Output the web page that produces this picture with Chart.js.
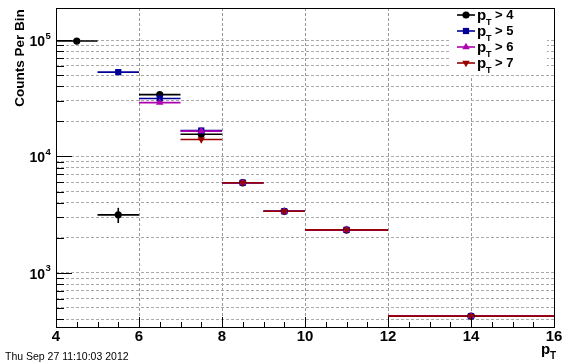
<!DOCTYPE html>
<html><head><meta charset="utf-8">
<script src="https://cdn.jsdelivr.net/npm/chart.js@4/dist/chart.umd.min.js"></script>
<style>html,body{margin:0;padding:0;background:#fff;overflow:hidden}canvas{display:block}</style>
</head><body>
<canvas id="c" width="567" height="364"></canvas>
<script>
// ---- data ----
const binEdges = [4, 5, 6, 7, 8, 9, 10, 12, 16];
const seriesLabels = ['4', '5', '6', '7'];
const ptGt4 = [98000, 3150, 34000, 15500, 5950, 3380, 2340, 425];
const ptGt5 = [null, 53000, 31500, 16700, 5950, 3380, 2340, 425];
const ptGt6 = [null, null, 29000, 16500, 5950, 3380, 2340, 425];
const ptGt7 = [null, null, null, 14000, 5950, 3380, 2340, 425];
const errGt4 = [1500, 470, 1500, 300, 120, 80, 50, 20];
const errGt5 = [0, 1200, 900, 400, 120, 80, 50, 20];
const errGt6 = [0, 0, 800, 400, 120, 80, 50, 20];
const errGt7 = [0, 0, 0, 400, 120, 80, 50, 20];
const xTickValues = [4, 6, 8, 10, 12, 14, 16];
const yTickValues = [400, 500, 600, 700, 800, 900, 1000, 2000, 3000, 4000, 5000, 6000, 7000, 8000, 9000,
  10000, 20000, 30000, 40000, 50000, 60000, 70000, 80000, 90000, 100000];
const yLabelExponents = [3, 4, 5];
const dateText = 'Thu Sep 27 11:10:03 2012';

// ---- styles ----
const FONT = "'Liberation Sans', Arial, Helvetica, sans-serif";
const styles = [
  { color: '#000000', pointStyle: 'circle', radius: 3.6, rotation: 0 },
  { color: '#000099', pointStyle: 'rect', radius: 4.4, rotation: 0 },
  { color: '#b000b0', pointStyle: 'triangle', radius: 4.3, rotation: 0 },
  { color: '#990000', pointStyle: 'triangle', radius: 4.3, rotation: 180 }
];
const seriesValues = [ptGt4, ptGt5, ptGt6, ptGt7];
const seriesErrors = [errGt4, errGt5, errGt6, errGt7];
const centers = binEdges.slice(0, -1).map((e, i) => (e + binEdges[i + 1]) / 2);

const datasets = seriesValues.map((vals, i) => ({
  label: 'pT > ' + seriesLabels[i],
  data: vals.map((v, j) => v == null ? null : { x: centers[j], y: v }).filter(Boolean),
  pointStyle: styles[i].pointStyle,
  pointRadius: styles[i].radius,
  pointRotation: styles[i].rotation,
  backgroundColor: styles[i].color,
  borderColor: styles[i].color,
  borderWidth: 0,
  showLine: false,
  order: 3 - i
}));

const rootPlugin = {
  id: 'rootStyle',
  beforeDatasetsDraw(chart) {
    const ctx = chart.ctx, xs = chart.scales.x, ys = chart.scales.y;
    ctx.save();
    seriesValues.forEach((vals, i) => {
      ctx.strokeStyle = styles[i].color;
      ctx.lineWidth = 1.6;
      vals.forEach((v, j) => {
        if (v == null) return;
        const y = ys.getPixelForValue(v);
        ctx.beginPath();
        ctx.moveTo(xs.getPixelForValue(binEdges[j]), y);
        ctx.lineTo(xs.getPixelForValue(binEdges[j + 1]), y);
        ctx.stroke();
        const e = seriesErrors[i][j];
        if (e > 0) {
          const x = xs.getPixelForValue(centers[j]);
          ctx.beginPath();
          ctx.moveTo(x, ys.getPixelForValue(v - e));
          ctx.lineTo(x, ys.getPixelForValue(v + e));
          ctx.stroke();
        }
      });
    });
    ctx.restore();
  },
  afterDraw(chart) {
    const ctx = chart.ctx, xs = chart.scales.x, ys = chart.scales.y, a = chart.chartArea;
    ctx.save();
    // frame
    ctx.strokeStyle = '#000';
    ctx.lineWidth = 1;
    ctx.strokeRect(Math.round(a.left) + 0.5, Math.round(a.top) + 0.5, Math.round(a.right - a.left), Math.round(a.bottom - a.top));
    // x ticks
    ctx.beginPath();
    for (let v = xs.min; v <= xs.max + 1e-9; v += 0.5) {
      const x = Math.round(xs.getPixelForValue(v)) + 0.5;
      const major = xTickValues.includes(v);
      ctx.moveTo(x, a.bottom);
      ctx.lineTo(x, a.bottom - (major ? 10 : 5));
    }
    // y ticks
    yTickValues.forEach(v => {
      const y = Math.round(ys.getPixelForValue(v)) + 0.5;
      const major = Math.abs(Math.log10(v) - Math.round(Math.log10(v))) < 1e-9;
      ctx.moveTo(a.left, y);
      ctx.lineTo(a.left + (major ? 16 : 8), y);
    });
    ctx.stroke();
    // y labels
    ctx.fillStyle = '#000';
    yLabelExponents.forEach(p => {
      const y = ys.getPixelForValue(Math.pow(10, p));
      ctx.font = 'bold 14px ' + FONT;
      ctx.textAlign = 'right';
      ctx.textBaseline = 'alphabetic';
      ctx.fillText('10', 45, y + 6);
      ctx.font = 'bold 9.5px ' + FONT;
      ctx.textAlign = 'left';
      ctx.fillText(String(p), 45.5, y - 1.5);
    });
    // y title
    ctx.save();
    ctx.translate(24, 58);
    ctx.rotate(-Math.PI / 2);
    ctx.font = 'bold 13.5px ' + FONT;
    ctx.textAlign = 'center';
    ctx.textBaseline = 'alphabetic';
    ctx.fillText('Counts Per Bin', 0, 0);
    ctx.restore();
    // x title
    ctx.textAlign = 'left';
    ctx.font = 'bold 15px ' + FONT;
    ctx.fillText('p', 541, 354);
    ctx.font = 'bold 10px ' + FONT;
    ctx.fillText('T', 550, 359);
    // date
    ctx.font = '10.5px ' + FONT;
    ctx.fillText(dateText, 5, 360);
    // legend
    ctx.fillStyle = '#fff';
    ctx.fillRect(451, 9, 96, 66);
    const rows = [15, 31, 47, 63];
    rows.forEach((ry, i) => {
      const s = styles[i];
      ctx.strokeStyle = s.color;
      ctx.lineWidth = 1.6;
      ctx.beginPath();
      ctx.moveTo(457, ry); ctx.lineTo(475, ry); ctx.stroke();
      ctx.fillStyle = s.color;
      Chart.helpers.drawPoint(ctx, { pointStyle: s.pointStyle, radius: s.radius, rotation: s.rotation, borderWidth: 0 }, 466, ry);
      ctx.fillStyle = '#000';
      ctx.textAlign = 'left';
      ctx.font = 'bold 15px ' + FONT;
      ctx.fillText('p', 477, ry + 5);
      ctx.font = 'bold 9px ' + FONT;
      ctx.fillText('T', 486, ry + 10);
      ctx.font = 'bold 13px ' + FONT;
      ctx.fillText('> ' + seriesLabels[i], 495, ry + 4);
    });
    ctx.restore();
  }
};

new Chart(document.getElementById('c').getContext('2d'), {
  type: 'scatter',
  data: { datasets },
  options: {
    responsive: false,
    animation: false,
    devicePixelRatio: 1,
    layout: { padding: { top: 8, right: 13, left: 0, bottom: 0 } },
    plugins: { legend: { display: false }, tooltip: { enabled: false } },
    scales: {
      x: {
        type: 'linear', min: 4, max: 16,
        afterFit(s) { s.height = 37; },
        afterBuildTicks(s) { s.ticks = xTickValues.map(v => ({ value: v })); },
        ticks: { color: '#000', font: { family: FONT, weight: 'bold', size: 15 }, padding: 1, maxRotation: 0, autoSkip: false },
        grid: { color: '#999', drawTicks: false, lineWidth: 1 },
        border: { display: false, dash: [3, 2] }
      },
      y: {
        type: 'logarithmic', min: 343, max: 188400,
        afterFit(s) { s.width = 56; },
        afterBuildTicks(s) { s.ticks = yTickValues.map(v => ({ value: v })); },
        ticks: { display: false },
        grid: { color: '#aaa', drawTicks: false, lineWidth: 1 },
        border: { display: false, dash: [3, 2] }
      }
    }
  },
  plugins: [rootPlugin]
});
</script>
</body></html>
